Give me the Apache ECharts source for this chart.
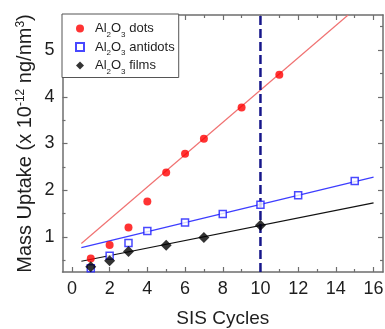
<!DOCTYPE html>
<html>
<head>
<meta charset="utf-8">
<script src="https://cdn.jsdelivr.net/npm/echarts@6/dist/echarts.min.js"></script>
<style>
html,body{margin:0;padding:0;background:#fff;}
#chart{width:385px;height:329px;}
</style>
</head>
<body>
<div id="chart"></div>
<script>
// ---- data ----
const dotsX = [1, 2, 3, 4, 5, 6, 7, 9, 11];
const dotsY = [0.54, 0.83, 1.20, 1.76, 2.38, 2.78, 3.10, 3.77, 4.47];
const antidotsX = [1, 2, 3, 4, 6, 8, 10, 12, 15];
const antidotsY = [0.33, 0.60, 0.87, 1.13, 1.31, 1.49, 1.69, 1.89, 2.20];
const filmsX = [1, 2, 3, 5, 7, 10];
const filmsY = [0.36, 0.49, 0.69, 0.82, 0.99, 1.25];
// linear fit lines (end points)
const dotsFitX = [0.5, 14.65];
const dotsFitY = [0.86, 5.75];
const antidotsFitX = [0.5, 16];
const antidotsFitY = [0.77, 2.28];
const filmsFitX = [0.5, 16];
const filmsFitY = [0.48, 1.73];
// vertical dashed marker
const markerX = [10, 10];
const markerY = [0.25, 5.75];
// axes
const xRange = [-0.5, 16.5];
const yRange = [0.25, 5.75];
const xLabelValues = [0, 2, 4, 6, 8, 10, 12, 14, 16];
const xMajorTicks = [0, 2, 4, 6, 8, 10, 12, 14, 16];
const xMinorTicks = [1, 3, 5, 7, 9, 11, 13, 15];
const yLabelValues = [1, 2, 3, 4, 5];
const yMajorTicks = [1, 2, 3, 4, 5];
const yMinorTicks = [0.5, 1.5, 2.5, 3.5, 4.5, 5.5];
const seriesNames = ['Al2O3 dots', 'Al2O3 antidots', 'Al2O3 films'];
const legendSuffix = [' dots', ' antidots', ' films'];

const zip = (xs, ys) => xs.map((x, i) => [x, ys[i]]);
const FONT = 'Liberation Sans, Arial, sans-serif';
const AXIS_COLOR = '#6e6e6e';
const TEXT_COLOR = '#1e1e1e';

function xAxisDef(pos, ticks, len, showLine, showLabel) {
  return {
    type: 'value', position: pos, min: xRange[0], max: xRange[1],
    axisLine: {show: showLine, onZero: false, lineStyle: {color: AXIS_COLOR, width: 1.5}},
    axisTick: {show: true, inside: true, length: len, customValues: ticks, lineStyle: {color: AXIS_COLOR, width: 1.2}},
    axisLabel: {show: showLabel, customValues: xLabelValues, margin: 8, color: TEXT_COLOR, fontSize: 18, fontFamily: FONT},
    splitLine: {show: false}
  };
}
function yAxisDef(pos, ticks, len, showLine, showLabel) {
  return {
    type: 'value', position: pos, min: yRange[0], max: yRange[1],
    axisLine: {show: showLine, onZero: false, lineStyle: {color: AXIS_COLOR, width: 1.5}},
    axisTick: {show: true, inside: true, length: len, customValues: ticks, lineStyle: {color: AXIS_COLOR, width: 1.2}},
    axisLabel: {show: showLabel, customValues: yLabelValues, margin: 8, color: TEXT_COLOR, fontSize: 18, fontFamily: FONT},
    splitLine: {show: false}
  };
}

const xAxes = [
  xAxisDef('bottom', xMajorTicks, 5, true, true),
  xAxisDef('bottom', xMinorTicks, 3, false, false),
  xAxisDef('top', xMajorTicks, 5, true, false),
  xAxisDef('top', xMinorTicks, 3, false, false)
];
Object.assign(xAxes[0], {
  name: 'SIS Cycles', nameLocation: 'middle', nameGap: 37, nameMoveOverlap: false,
  nameTextStyle: {color: TEXT_COLOR, fontSize: 19, fontFamily: FONT}
});
const yAxes = [
  yAxisDef('left', yMajorTicks, 5, true, true),
  yAxisDef('left', yMinorTicks, 3, false, false),
  yAxisDef('right', yMajorTicks, 5, true, false),
  yAxisDef('right', yMinorTicks, 3, false, false)
];
Object.assign(yAxes[0], {
  name: 'Mass Uptake (x 10{sup|-12} ng/nm{sup|3})', nameLocation: 'middle', nameRotate: 90, nameGap: 26, nameMoveOverlap: false,
  nameTextStyle: {
    color: TEXT_COLOR, fontSize: 20, fontFamily: FONT,
    rich: {sup: {fontSize: 12, color: TEXT_COLOR, fontFamily: FONT, padding: [0, 0, 10, 0]}}
  }
});

const chart = echarts.init(document.getElementById('chart'), null, {renderer: 'canvas'});
chart.setOption({
  animation: false,
  backgroundColor: '#fff',
  grid: {left: 62.5, top: 15, right: 2, bottom: 57, containLabel: false, outerBoundsMode: 'none'},
  xAxis: xAxes,
  yAxis: yAxes,
  legend: {
    orient: 'vertical', left: 62, top: 14,
    padding: [8, 4, 2, 13],
    itemWidth: 8, itemHeight: 8, itemGap: 2,
    backgroundColor: '#fff', borderColor: '#555', borderWidth: 1,
    data: seriesNames,
    formatter: function (name) {
      const i = seriesNames.indexOf(name);
      return '{f|Al}{b|2}{a|O}{b|3}{a|' + legendSuffix[i] + '}';
    },
    textStyle: {
      color: TEXT_COLOR, fontFamily: FONT,
      rich: {
        f: {fontSize: 13, lineHeight: 20, color: TEXT_COLOR, fontFamily: FONT, padding: [0, 0, 0, 6]},
        a: {fontSize: 13, lineHeight: 20, color: TEXT_COLOR, fontFamily: FONT},
        b: {fontSize: 8, lineHeight: 6, verticalAlign: 'bottom', color: TEXT_COLOR, fontFamily: FONT}
      }
    }
  },
  series: [
    {type: 'line', data: zip(dotsFitX, dotsFitY), showSymbol: false, silent: true, z: 1,
     lineStyle: {color: '#f07272', width: 1.2}},
    {type: 'line', data: zip(antidotsFitX, antidotsFitY), showSymbol: false, silent: true, z: 1,
     lineStyle: {color: '#3d3dff', width: 1.2}},
    {type: 'line', data: zip(filmsFitX, filmsFitY), showSymbol: false, silent: true, z: 1,
     lineStyle: {color: '#111', width: 1.2}},
    {type: 'line', data: zip(markerX, markerY), showSymbol: false, silent: true, z: 2,
     lineStyle: {color: '#16168a', width: 2.5, type: [9, 4]}},
    {name: seriesNames[0], type: 'scatter', data: zip(dotsX, dotsY), symbol: 'circle', symbolSize: 8, z: 5,
     itemStyle: {color: '#ff0000'}},
    {name: seriesNames[1], type: 'scatter', data: zip(antidotsX, antidotsY), symbol: 'rect', symbolSize: 7, z: 4,
     itemStyle: {color: '#ffffff', borderColor: '#1a1aff', borderWidth: 1.5}},
    {name: seriesNames[2], type: 'scatter', data: zip(filmsX, filmsY), symbol: 'diamond', symbolSize: 11, z: 6,
     itemStyle: {color: '#000'}}
  ]
});
</script>
</body>
</html>
